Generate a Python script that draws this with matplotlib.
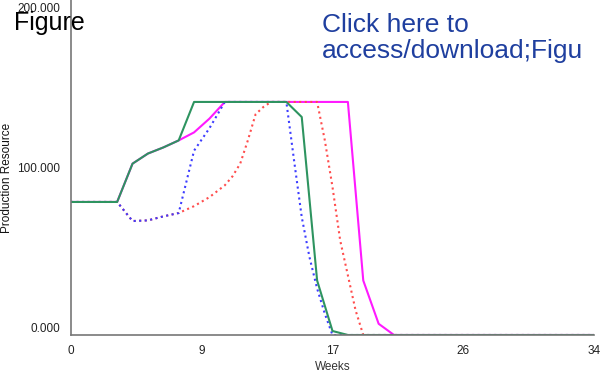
import matplotlib.pyplot as plt
from matplotlib.transforms import ScaledTranslation

plt.rcParams['font.family'] = ['Liberation Sans', 'DejaVu Sans']

# weekly production resource, four scenarios
weeks_full = list(range(0, 35))

magenta_vals = [83, 83, 83, 83, 106.9, 113.2, 117, 121.4, 126.4, 135,
                145.4, 145.4, 145.4, 145.4, 145.4, 145.4, 145.4, 145.4, 145.4,
                34, 7] + [0] * 14

green_vals = [83, 83, 83, 83, 106.9, 113.2, 117, 121.4,
              145.4, 145.4, 145.4, 145.4, 145.4, 145.4, 145.4,
              136, 34, 2.5] + [0] * 17

blue_weeks = [0, 1, 2, 3, 4, 5, 6, 7, 8, 9, 10, 11, 12, 13, 14,
              14.5, 15, 15.5, 16, 16.5] + list(range(17, 35))
blue_vals = [83, 83, 83, 83, 71.1, 71.5, 74, 76.1, 115, 129,
             145.4, 145.4, 145.4, 145.4, 145.4,
             109, 73.6, 48.7, 29, 13.3] + [0] * 18

red_weeks = [0, 1, 2, 3, 4, 5, 6, 7, 8, 9, 10, 10.5, 11, 11.5, 12, 12.5,
             13, 14, 15, 16, 16.5, 17, 17.5, 18, 18.5] + list(range(19, 35))
red_vals = [83, 83, 83, 83, 71.1, 71.5, 74, 76.1, 80.4, 86, 93.4, 99, 106.9,
            121.5, 137.7, 142.2, 145.4, 145.4, 145.4, 145.4, 121.5, 92.3,
            59, 37.2, 15.4] + [0] * 16

x_ticks = [0, 8.5, 17, 25.5, 34]
x_labels = ['0', '9', '17', '26', '34']
y_ticks = [0, 100, 200]
y_labels = ['0.000', '100.000', '200.000']

fig = plt.figure(figsize=(6.02, 3.73), dpi=100)
ax = fig.add_axes([71 / 602, 38 / 373, 523 / 602, 335 / 373])

ax.plot(weeks_full, magenta_vals, color='#ff1aff', lw=1.5)
ax.plot(red_weeks, red_vals, color='#ff4d4d', lw=1.5, ls=':')
ax.plot(blue_weeks, blue_vals, color='#3d3dff', lw=1.5, ls=':')
ax.plot(weeks_full, green_vals, color='#2e9460', lw=1.5)

ax.set_xlim(0, 34)
ax.set_ylim(0, 209)
ax.set_xticks(x_ticks)
ax.set_xticklabels(x_labels)
ax.set_yticks(y_ticks)
ax.set_yticklabels(y_labels)
ax.tick_params(length=0, labelsize=8.5, colors='#222222')
ax.tick_params(axis='x', pad=7)
ax.tick_params(axis='y', pad=8)
for lab in ax.get_yticklabels():
    lab.set_transform(lab.get_transform() + ScaledTranslation(0, 0.07, fig.dpi_scale_trans))

for side in ['top', 'right']:
    ax.spines[side].set_visible(False)
for side in ['left', 'bottom']:
    ax.spines[side].set_color('#777777')
    ax.spines[side].set_linewidth(1.2)

ax.set_xlabel('Weeks', fontsize=8.5, color='#333333')
ax.xaxis.set_label_coords(0.5, -0.078)
ax.set_ylabel('Production Resource', fontsize=8.5, color='#111111')
ax.yaxis.set_label_coords(-0.111, 0.47)

fig.text(14 / 602, 1 - 30 / 373, 'Figure', fontsize=18, color='black', va='baseline')
fig.text(322 / 602, 1 - 58 / 373, 'Click here to\naccess/download;Figu', fontsize=19,
         color='#1f3f9f', va='baseline', linespacing=1.1)

fig.savefig('out.png', dpi=100)
